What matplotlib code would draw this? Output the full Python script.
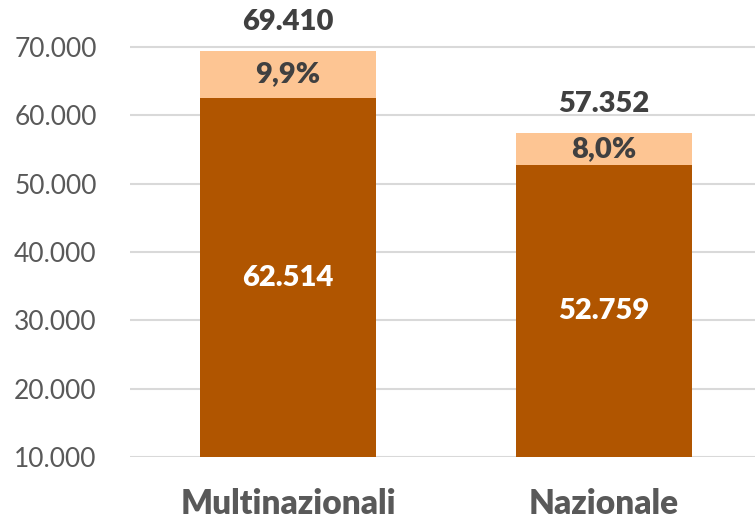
import matplotlib.pyplot as plt

categories = ["Multinazionali", "Nazionale"]
base = [62514, 52759]
total = [69410, 57352]
yticks = [10000, 20000, 30000, 40000, 50000, 60000, 70000]

dark = "#B05500"
light = "#FDC593"

plt.rcParams['font.family'] = ['Lato', 'DejaVu Sans']


def fmt(v):
    return f"{v:,}".replace(",", ".")


fig = plt.figure(figsize=(7.55, 5.21), dpi=100)
ax = fig.add_axes([130 / 755, 64 / 521, 625 / 755, 437 / 521])

x = list(range(len(categories)))
extra = [t - b for t, b in zip(total, base)]
ax.bar(x, [b - 10000 for b in base], bottom=10000, width=0.557, color=dark, zorder=2)
ax.bar(x, extra, bottom=base, width=0.557, color=light, zorder=2)

for i in x:
    ax.text(i, (base[i] + 10000) / 2, fmt(base[i]), ha="center", va="center",
            color="white", fontsize=21, fontweight="heavy")
    pct = f"{extra[i] / total[i] * 100:.1f}%".replace(".", ",")
    ax.text(i, (base[i] + total[i]) / 2, pct, ha="center", va="center",
            color="#404040", fontsize=21, fontweight="heavy")
    ax.annotate(fmt(total[i]), (i, total[i]), xytext=(0, 21), textcoords="offset points",
                ha="center", va="center", color="#404040", fontsize=21, fontweight="heavy",
                annotation_clip=False)

ax.set_xlim(-0.5, 1.478)
ax.set_ylim(10000, 70000 + 27 / 0.006833)
ax.set_yticks(yticks)
ax.set_yticklabels([fmt(v) for v in yticks], color="#595959", fontsize=19)
ax.set_xticks(x)
ax.set_xticklabels(categories, color="#595959", fontsize=24, fontweight="heavy")
ax.tick_params(axis="both", length=0)
ax.tick_params(axis="y", pad=24)
ax.tick_params(axis="x", pad=22)
ax.grid(axis="y", color="#d9d9d9", linewidth=1.5, zorder=0)
for s in ax.spines.values():
    s.set_visible(False)

fig.savefig("out.png", dpi=100)
